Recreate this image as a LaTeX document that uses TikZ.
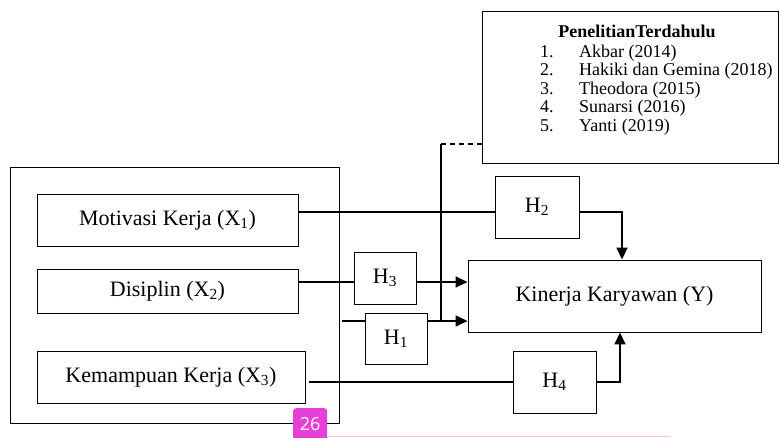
\documentclass[tikz,border=0pt]{standalone}
\usepackage{fontspec}
\setmainfont{Liberation Serif}
\newfontfamily\badgefont{Open Sans}
\usetikzlibrary{arrows.meta,calc}
\definecolor{badge}{RGB}{232,62,216}
\definecolor{badgeline}{RGB}{250,190,245}
\tikzset{
  box/.style={draw, line width=0.9pt, rectangle, inner sep=0pt, font=\fontsize{22}{25}\selectfont},
  conn/.style={line width=1.6pt},
  arr/.style={conn, -{Triangle[length=12pt,width=11pt]}},
  listtxt/.style={anchor=base west, inner sep=0pt, font=\fontsize{18}{20}\selectfont},
}
\begin{document}
\begin{tikzpicture}[x=1pt,y=-1pt]
\useasboundingbox (0,0) rectangle (779,437);
% outer box
\node[box, minimum width=329pt, minimum height=256pt] (outer) at (174.5,295) {};
% variable boxes
\node[box, minimum width=261pt, minimum height=52pt] (m) at (167.5,220) {Motivasi Kerja (X\textsubscript{1})};
\node[box, minimum width=261pt, minimum height=44pt] (d) at (167.5,291) {Disiplin (X\textsubscript{2})};
\node[box, minimum width=268pt, minimum height=52pt] (k) at (171,377) {Kemampuan Kerja (X\textsubscript{3})};
% hypothesis boxes
\node[box, minimum width=84pt, minimum height=62pt] (h2) at (537,207) {H\textsubscript{2}};
\node[box, minimum width=62pt, minimum height=52pt] (h3) at (385,278) {H\textsubscript{3}};
\node[box, minimum width=62pt, minimum height=51pt] (h1) at (396,338.5) {H\textsubscript{1}};
\node[box, minimum width=83pt, minimum height=62pt] (h4) at (554.5,382) {H\textsubscript{4}};
% dependent
\node[box, minimum width=293pt, minimum height=72pt] (y) at (614.5,296) {\raisebox{4pt}{Kinerja Karyawan (Y)}};
% previous research box
\node[box, minimum width=296pt, minimum height=152pt] (prev) at (630,87) {};
\node[anchor=base, inner sep=0pt, font=\fontsize{18}{20}\selectfont\bfseries] (title) at (637,37) {PenelitianTerdahulu};
\node[listtxt] (n1) at (540,57) {1.};
\node[listtxt] (t1) at (579,57) {Akbar (2014)};
\node[listtxt] (n2) at (540,75.5) {2.};
\node[listtxt] (t2) at (579,75.5) {Hakiki dan Gemina (2018)};
\node[listtxt] (n3) at (540,94) {3.};
\node[listtxt] (t3) at (579,94) {Theodora (2015)};
\node[listtxt] (n4) at (540,112.5) {4.};
\node[listtxt] (t4) at (579,112.5) {Sunarsi (2016)};
\node[listtxt] (n5) at (540,131) {5.};
\node[listtxt] (t5) at (579,131) {Yanti (2019)};
% helper coordinates
\coordinate (s1) at (342,321);
\coordinate (vtop) at (441,144);
\coordinate (vbot) at (441,321);
\coordinate (s3) at (309,382);
% connectors
\draw[conn] (m.east |- 0,212) -- (h2.west |- 0,212);
\draw[arr] (h2.east |- 0,212) -| (622,0 |- y.north);
\draw[conn] (d.east |- 0,282) -- (h3.west |- 0,282);
\draw[arr] (h3.east |- 0,282) -- (y.west |- 0,282);
\draw[conn] (s1) -- (h1.west |- s1);
\draw[arr] (h1.east |- s1) -- (y.west |- s1);
\draw[conn] (vbot) -- (vtop);
\draw[conn, dashed, dash pattern=on 5pt off 4pt] (vtop) -- (prev.west |- vtop);
\draw[conn] (s3) -- (h4.west |- s3);
\draw[arr] (h4.east |- s3) -| (620,0 |- y.south);
% page badge
\fill[badgeline] (327,435.5) rectangle (670,437);
\node[fill=badge, rounded corners=3pt, minimum width=34pt, minimum height=32pt, inner sep=0pt, anchor=north west, text=white, font=\badgefont\fontsize{18}{20}\selectfont] (badge) at (293,408) {\raisebox{-3pt}{26}};
\end{tikzpicture}
\end{document}
